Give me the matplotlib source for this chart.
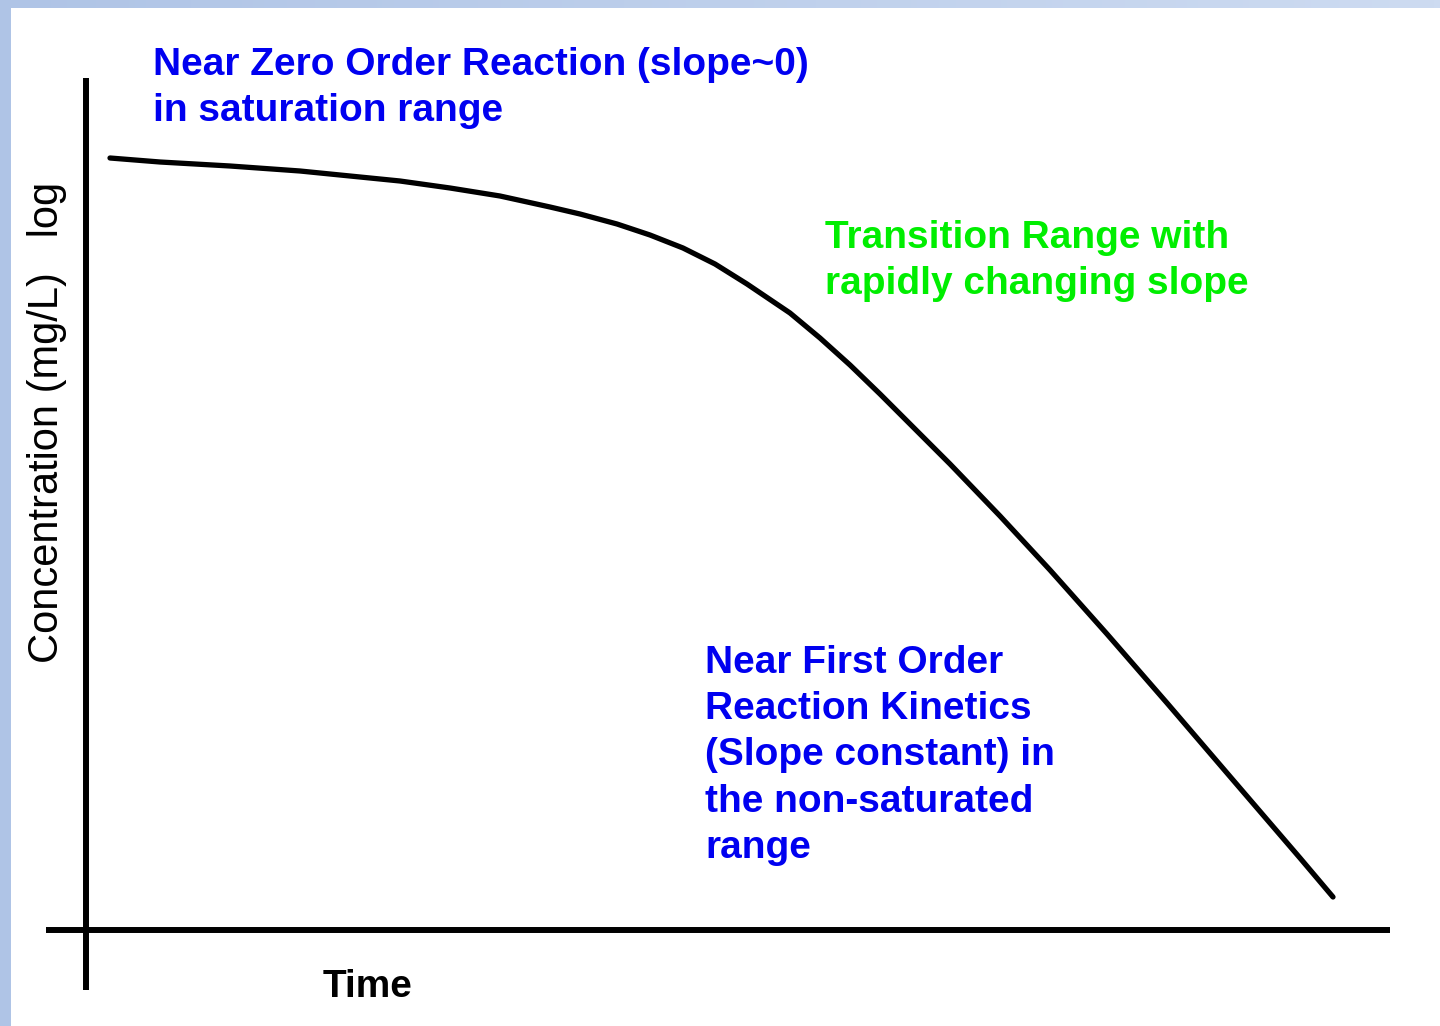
import numpy as np
import matplotlib
matplotlib.use('Agg')
import matplotlib.pyplot as plt
from matplotlib.patches import Rectangle

plt.rcParams['font.family'] = ['Liberation Sans', 'DejaVu Sans']

# Saturable elimination: log concentration against time (arbitrary units)
tempo = [0.24, 0.74, 1.44, 2.14, 2.64, 3.14, 3.64, 4.14, 4.64, 4.94, 5.31, 5.64,
         5.97, 6.29, 6.61, 7.04, 7.34, 7.64, 7.94, 8.24, 8.64, 9.14, 9.64,
         10.21, 10.81, 11.47, 12.14, 12.47]
log_conc = [7.72, 7.68, 7.64, 7.59, 7.54, 7.49, 7.42, 7.34, 7.23, 7.16, 7.06, 6.95,
            6.82, 6.66, 6.46, 6.17, 5.92, 5.65, 5.36, 5.06, 4.66, 4.14, 3.60,
            2.96, 2.27, 1.50, 0.72, 0.33]

texto_zero = 'Near Zero Order Reaction (slope~0)\nin saturation range'
texto_trans = 'Transition Range with\nrapidly changing slope'
texto_primeira = ('Near First Order\nReaction Kinetics\n(Slope constant) in\n'
                  'the non-saturated\nrange')

fig = plt.figure(figsize=(14.4, 10.26), dpi=100, facecolor='white')

# moldura azul (faixa esquerda e faixa superior em degradê)
fig.patches.append(Rectangle((0, 0), 11 / 1440, 1, transform=fig.transFigure,
                             facecolor='#afc4e6', edgecolor='none', zorder=0))
ax_topo = fig.add_axes([0, 1 - 8 / 1026, 1, 8 / 1026])
grad = np.linspace(0, 1, 256)
c0 = np.array([0xaf, 0xc4, 0xe6]) / 255
c1 = np.array([0xcd, 0xdb, 0xf1]) / 255
ax_topo.imshow((c0 + (c1 - c0) * grad[:, None])[None, :, :], aspect='auto')
ax_topo.axis('off')

ax = fig.add_axes([11 / 1440, 0, 1 - 11 / 1440, 1 - 8 / 1026])
ax.set_xlim(-0.75, 13.54)
ax.set_ylim(-0.96, 9.22)
ax.axis('off')

# eixos desenhados à mão, cruzando na origem
ax.plot([-0.40, 13.04], [0, 0], color='black', lw=4.3, solid_capstyle='butt')
ax.plot([0, 0], [-0.60, 8.52], color='black', lw=4.3, solid_capstyle='butt')

ax.plot(tempo, log_conc, color='black', lw=3.8, solid_capstyle='round',
        solid_joinstyle='round')

# va='baseline' em texto de várias linhas alinha a última linha
ax.text(0.67, 8.09, texto_zero, color='#0000f0', fontsize=28, fontweight='bold',
        ha='left', va='baseline', linespacing=1.37)
ax.text(7.39, 6.36, texto_trans, color='#00ee00', fontsize=28, fontweight='bold',
        ha='left', va='baseline', linespacing=1.37)
ax.text(6.19, 0.72, texto_primeira, color='#0000f0', fontsize=28, fontweight='bold',
        ha='left', va='baseline', linespacing=1.37)

ax.text(2.37, -0.67, 'Time', color='black', fontsize=28, fontweight='bold',
        ha='left', va='baseline')
ax.text(-0.28, 2.67, 'Concentration (mg/L)   log', color='black', fontsize=30,
        rotation=90, rotation_mode='anchor', ha='left', va='baseline')

plt.savefig('out.png', dpi=100, facecolor='white')
